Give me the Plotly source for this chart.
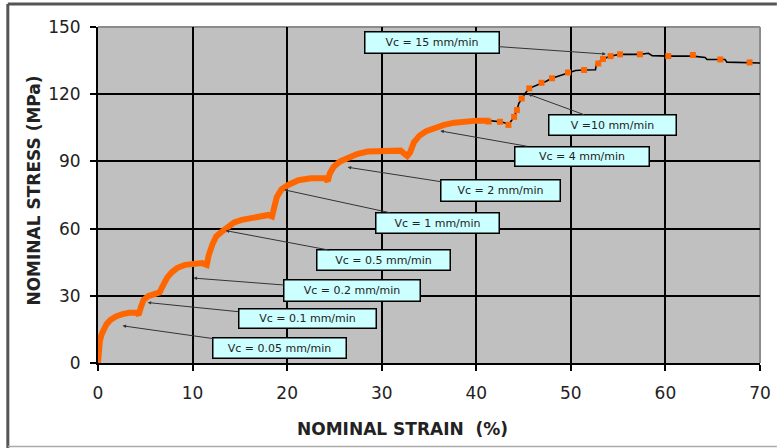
import plotly.graph_objects as go

# Stress-strain curve of a stepped-rate tensile test (strain in %, stress in MPa)
strain_dense = [0, 0.05, 0.1, 0.2, 0.4, 0.6, 0.9, 1.3, 1.9, 2.6, 3.3, 4.1, 4.3, 4.5, 4.8,
                5.3, 6.1, 6.5, 6.8, 7.3, 7.8, 8.4, 9.2, 10.0, 11.0, 11.5, 11.7, 12.1, 12.5,
                13.0, 13.6, 14.4, 15.2, 16.3, 17.2, 18.0, 18.4, 18.6, 18.9, 19.4, 20.1, 21.2,
                22.5, 24.0, 24.3, 24.5, 24.9, 25.6, 26.4, 27.4, 28.5, 30.0, 32.0, 32.7, 33.0,
                33.4, 34.0, 34.7, 35.6, 36.6, 37.7, 38.7, 40.0, 41.4]
stress_dense = [0, 3, 6, 10, 13, 15.5, 17.3, 19.2, 20.8, 21.8, 22.4, 22.4, 21.5, 24.5, 28,
                29.8, 31.2, 31.5, 34, 38, 40.5, 42.5, 43.8, 44.4, 44.6, 43.8, 48, 53, 56.5,
                58.3, 60.5, 62.8, 63.9, 64.8, 65.8, 66.1, 65.4, 70, 74, 77.5, 79.5, 81.6,
                82.5, 82.5, 81.2, 84.5, 87.5, 90, 91.8, 93.3, 94.4, 94.8, 94.8, 92.4, 94,
                98.5, 101.5, 103.5, 105, 106.3, 107.3, 107.9, 108.2, 108.2]

strain_tail = [41.4, 42.5, 43.2, 43.4, 44.0, 44.3, 44.5, 44.8, 45.2, 45.6, 46.2, 46.9, 47.4,
               48.0, 48.8, 49.7, 50.5, 51.4, 52.6, 52.7, 53.4, 54.2, 55.2, 56.3, 57.3, 58.2,
               58.6, 60.3, 62.9, 64.2, 64.4, 65.8, 66.3, 66.5, 68.9, 70.3]
stress_tail = [108.2, 107.7, 107.0, 106.3, 109.9, 112.9, 115.9, 118.1, 120.5, 122.6, 123.6,
               125.1, 125.8, 127.1, 128.2, 129.7, 130.6, 130.8, 130.9, 133.5, 135.7, 137.0,
               137.8, 137.8, 137.8, 138.3, 137.2, 137.0, 137.0, 136.4, 135.5, 135.5, 135.5,
               134.3, 134.2, 133.9]

strain_pts = [41.3, 42.5, 43.4, 44.0, 44.3, 44.8, 45.6, 46.9, 48.0, 49.7, 51.4, 52.9, 53.4,
              54.2, 55.2, 57.3, 60.3, 62.9, 65.8, 68.9]
stress_pts = [107.8, 107.7, 106.3, 109.9, 112.9, 118.1, 122.6, 125.1, 127.1, 129.7, 130.8,
              133.7, 135.7, 137.0, 137.8, 137.8, 137.0, 137.5, 135.5, 134.2]

# Crosshead speed labels and the curve point each one refers to
rate_labels = ["Vc = 15 mm/min", "V =10 mm/min", "Vc = 4 mm/min", "Vc = 2 mm/min",
               "Vc = 1 mm/min", "Vc = 0.5 mm/min", "Vc = 0.2 mm/min", "Vc = 0.1 mm/min",
               "Vc = 0.05 mm/min"]
rate_strain = [53.7, 45.5, 36.2, 26.4, 19.7, 13.5, 10.1, 5.25, 2.6]
rate_stress = [137.9, 120.0, 103.6, 87.4, 77.3, 59.1, 37.9, 27.0, 16.6]

x_ticks = [0, 10, 20, 30, 40, 50, 60, 70]
y_ticks = [0, 30, 60, 90, 120, 150]

# label box centres (data units) and sizes (px)
box_x = [35.3, 54.4, 51.2, 42.6, 35.9, 30.2, 26.9, 22.1, 19.2]
box_y = [143.3, 106.2, 92.4, 76.8, 62.5, 45.8, 32.5, 19.8, 6.7]
box_w = [136, 129, 136, 121, 125, 135, 138, 139, 135]
box_h = [23, 22, 21, 23, 22, 22, 23, 21, 22]

ORANGE = "#ff6600"
FONT = "DejaVu Sans"

# plot-area geometry in pixels, used to place frame lines and titles
W, H = 783, 448
L, R, T, B = 98, 17, 27, 85
PW, PH = W - L - R, H - T - B


def px(xp):
    return (xp - L) / PW


def py(yp):
    return (H - B - yp) / PH


fig = go.Figure()
fig.add_trace(go.Scatter(x=strain_tail, y=stress_tail, mode="lines",
                         line=dict(color="black", width=1.6), hoverinfo="skip"))
fig.add_trace(go.Scatter(x=strain_dense, y=stress_dense, mode="lines",
                         line=dict(color=ORANGE, width=6), hoverinfo="skip"))
fig.add_trace(go.Scatter(x=strain_pts, y=stress_pts, mode="markers",
                         marker=dict(color=ORANGE, size=6, symbol="square"),
                         hoverinfo="skip"))

annotations = []
for lab, hx, hy, bx, by, w, h in zip(rate_labels, rate_strain, rate_stress,
                                     box_x, box_y, box_w, box_h):
    annotations.append(dict(
        x=hx, y=hy, ax=bx, ay=by, xref="x", yref="y", axref="x", ayref="y",
        text=lab, showarrow=True, arrowhead=2, arrowsize=0.7, arrowwidth=1,
        arrowcolor="#333333", bgcolor="#ccffff", bordercolor="black",
        borderwidth=1.5, borderpad=0, width=w - 3, height=h - 3,
        font=dict(family=FONT, size=11, color="#222222")))

annotations.append(dict(text="<b>NOMINAL STRAIN  (%)</b>", xref="paper", yref="paper",
                        x=px(405), y=py(429), xanchor="center", yanchor="middle",
                        showarrow=False,
                        font=dict(family=FONT, size=17, color="#222222")))
annotations.append(dict(text="<b>NOMINAL STRESS (MPa)</b>", xref="paper", yref="paper",
                        x=px(33), y=py(191), xanchor="center", yanchor="middle",
                        showarrow=False, textangle=-90,
                        font=dict(family=FONT, size=17, color="#222222")))

shapes = [
    # outer chart frame
    dict(type="line", xref="paper", yref="paper", x0=px(7), x1=px(W),
         y0=py(4), y1=py(4), line=dict(color="#555555", width=3)),
    dict(type="line", xref="paper", yref="paper", x0=px(7), x1=px(7),
         y0=py(4), y1=py(H), line=dict(color="#555555", width=3)),
    dict(type="line", xref="paper", yref="paper", x0=px(7), x1=px(W),
         y0=py(446.5), y1=py(446.5), line=dict(color="#aaaaaa", width=1.5)),
    # plot area border (top / right)
    dict(type="line", xref="paper", yref="paper", x0=0, x1=1, y0=1, y1=1,
         line=dict(color="#8c8c8c", width=2), layer="below"),
    dict(type="line", xref="paper", yref="paper", x0=1, x1=1, y0=0, y1=1,
         line=dict(color="#8c8c8c", width=2), layer="below"),
]

fig.update_layout(
    width=W, height=H,
    margin=dict(l=L, r=R, t=T, b=B),
    paper_bgcolor="white", plot_bgcolor="#c0c0c0",
    showlegend=False,
    annotations=annotations, shapes=shapes,
    xaxis=dict(range=[0, 70], tickvals=x_ticks, showgrid=True, gridcolor="black",
               gridwidth=1.5, zeroline=False, showline=True, linecolor="black",
               linewidth=2, ticks="outside", ticklen=6, tickwidth=1.5, tickcolor="black",
               ticklabelstandoff=8,
               tickfont=dict(family=FONT, size=17, color="#222222")),
    yaxis=dict(range=[0, 150], tickvals=y_ticks, showgrid=True, gridcolor="black",
               gridwidth=1.5, zeroline=False, showline=True, linecolor="black",
               linewidth=2, ticks="outside", ticklen=6, tickwidth=1.5, tickcolor="black",
               ticklabelstandoff=6,
               tickfont=dict(family=FONT, size=17, color="#222222")),
)

fig.write_html("out.html")
